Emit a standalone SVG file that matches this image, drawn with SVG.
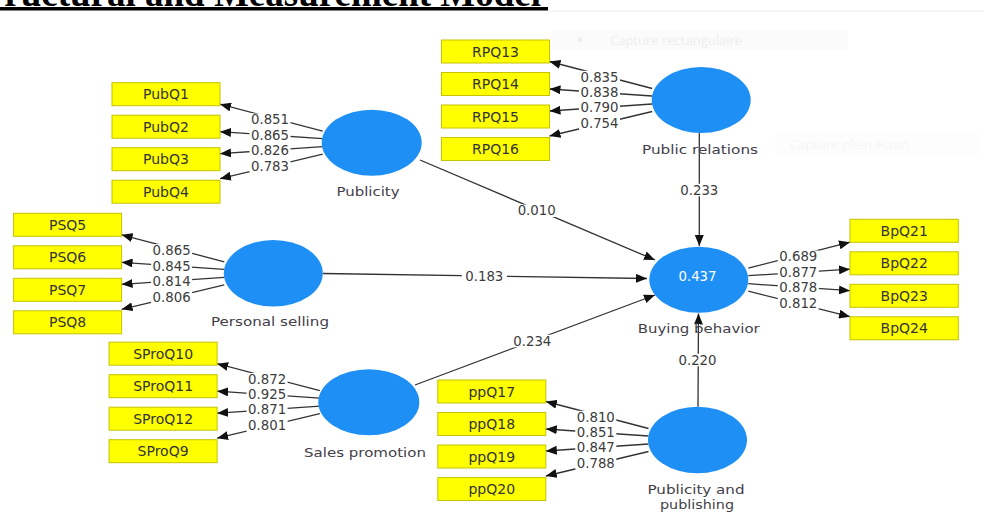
<svg xmlns="http://www.w3.org/2000/svg" width="984" height="514" viewBox="0 0 984 514">
<style>
.title{font-family:"Liberation Serif",serif;font-weight:bold;font-size:37px;fill:#000}
.ghost{font-family:"Open Sans","DejaVu Sans",sans-serif;font-size:13px;fill:#eeeeee}
.lv{fill:#1e8ff5}
.ind{fill:#ffff00;stroke:#c4c400;stroke-width:1}
.it{font-family:"DejaVu Sans",sans-serif;font-size:14px;fill:#333;text-anchor:middle}
.nl{font-family:"DejaVu Sans",sans-serif;font-size:13px;fill:#44404a;text-anchor:middle}
.w{font-family:"DejaVu Sans",sans-serif;font-size:13.3px;text-anchor:middle;fill:#3c3c3c}
.lb{fill:#fff;width:41px;height:12.5px}
.r2{font-family:"DejaVu Sans",sans-serif;font-size:13.3px;text-anchor:middle;fill:#fff}
.c line{stroke:#333;stroke-width:1.3;marker-end:url(#ah)}
</style>
<defs>
<marker id="ah" markerUnits="userSpaceOnUse" markerWidth="11" markerHeight="9" refX="11" refY="4.5" orient="auto">
<path d="M0,0 L11,4.5 L0,9 z" fill="#111"/>
</marker>
</defs>
<rect width="984" height="514" fill="#fff"/>
<line x1="548" y1="11" x2="984" y2="11" stroke="#ececec" stroke-width="1"/>
<rect x="0" y="7" width="548" height="3.5" fill="#000"/>
<text class="title" x="541" y="6" text-anchor="end">ructural and Measurement Model</text>
<rect x="552" y="30" width="296" height="20" fill="#fbfbfb"/>
<circle cx="580" cy="39.5" r="2.5" fill="#efefef"/>
<text class="ghost" x="610" y="44.5">Capture rectangulaire</text>
<rect x="775" y="133" width="205" height="22" fill="#fdfdfd"/>
<text class="ghost" x="790" y="149" style="fill:#f6f6f6">Capture plein écran</text>

<g id="connectors" class="c">
<line x1="322.7" y1="131.2" x2="220" y2="104.2"/>
<line x1="322.7" y1="138.7" x2="220" y2="131.7"/>
<line x1="322.7" y1="146.7" x2="220" y2="153.7"/>
<line x1="322.7" y1="154.2" x2="220" y2="178.7"/>
<line x1="652.2" y1="88.5" x2="549.5" y2="61.5"/>
<line x1="652.2" y1="96" x2="549.5" y2="89"/>
<line x1="652.2" y1="104" x2="549.5" y2="111"/>
<line x1="652.2" y1="111.5" x2="549.5" y2="136"/>
<line x1="224.3" y1="261.8" x2="121.6" y2="234.8"/>
<line x1="224.3" y1="269.3" x2="121.6" y2="262.3"/>
<line x1="224.3" y1="277.3" x2="121.6" y2="284.3"/>
<line x1="224.3" y1="284.8" x2="121.6" y2="309.3"/>
<line x1="319.8" y1="390.7" x2="217.1" y2="363.7"/>
<line x1="319.8" y1="398.2" x2="217.1" y2="391.2"/>
<line x1="319.8" y1="406.2" x2="217.1" y2="413.2"/>
<line x1="319.8" y1="413.7" x2="217.1" y2="438.2"/>
<line x1="648.5" y1="428.5" x2="545.8" y2="401.5"/>
<line x1="648.5" y1="436" x2="545.8" y2="429"/>
<line x1="648.5" y1="444" x2="545.8" y2="451"/>
<line x1="648.5" y1="451.5" x2="545.8" y2="476"/>
<line x1="748.3" y1="268.2" x2="850" y2="242.2"/>
<line x1="748.3" y1="275.7" x2="850" y2="269.2"/>
<line x1="748.3" y1="283.7" x2="850" y2="290.7"/>
<line x1="748.3" y1="291.2" x2="850" y2="316.7"/>
<line x1="420" y1="160" x2="655" y2="260"/>
<line x1="323" y1="273.5" x2="647" y2="278.5"/>
<line x1="415" y1="385" x2="655" y2="295"/>
<line x1="699.3" y1="133" x2="699.3" y2="246"/>
<line x1="698" y1="406.7" x2="698.5" y2="313.5"/>

<rect class="lb" x="249.5" y="113.5"/><text class="w" x="270" y="124.4">0.851</text>
<rect class="lb" x="249.5" y="129"/><text class="w" x="270" y="139.9">0.865</text>
<rect class="lb" x="249.5" y="144"/><text class="w" x="270" y="154.9">0.826</text>
<rect class="lb" x="249.5" y="160"/><text class="w" x="270" y="170.9">0.783</text>
<rect class="lb" x="579" y="70.8"/><text class="w" x="599.5" y="81.7">0.835</text>
<rect class="lb" x="579" y="86.3"/><text class="w" x="599.5" y="97.2">0.838</text>
<rect class="lb" x="579" y="101.3"/><text class="w" x="599.5" y="112.2">0.790</text>
<rect class="lb" x="579" y="117.3"/><text class="w" x="599.5" y="128.2">0.754</text>
<rect class="lb" x="151.1" y="244.1"/><text class="w" x="171.6" y="255">0.865</text>
<rect class="lb" x="151.1" y="259.6"/><text class="w" x="171.6" y="270.5">0.845</text>
<rect class="lb" x="151.1" y="274.6"/><text class="w" x="171.6" y="285.5">0.814</text>
<rect class="lb" x="151.1" y="290.6"/><text class="w" x="171.6" y="301.5">0.806</text>
<rect class="lb" x="246.6" y="373"/><text class="w" x="267.1" y="383.9">0.872</text>
<rect class="lb" x="246.6" y="388.5"/><text class="w" x="267.1" y="399.4">0.925</text>
<rect class="lb" x="246.6" y="403.5"/><text class="w" x="267.1" y="414.4">0.871</text>
<rect class="lb" x="246.6" y="419.5"/><text class="w" x="267.1" y="430.4">0.801</text>
<rect class="lb" x="575.3" y="410.8"/><text class="w" x="595.8" y="421.7">0.810</text>
<rect class="lb" x="575.3" y="426.3"/><text class="w" x="595.8" y="437.2">0.851</text>
<rect class="lb" x="575.3" y="441.3"/><text class="w" x="595.8" y="452.2">0.847</text>
<rect class="lb" x="575.3" y="457.3"/><text class="w" x="595.8" y="468.2">0.788</text>
<rect class="lb" x="777.8" y="250.5"/><text class="w" x="798.3" y="261.4">0.689</text>
<rect class="lb" x="777.8" y="266"/><text class="w" x="798.3" y="276.9">0.877</text>
<rect class="lb" x="777.8" y="281"/><text class="w" x="798.3" y="291.9">0.878</text>
<rect class="lb" x="777.8" y="297"/><text class="w" x="798.3" y="307.9">0.812</text>
<rect class="lb" x="514.2" y="204.5" style="width:45px"/><text class="w" x="536.7" y="215.4">0.010</text>
<rect class="lb" x="461.8" y="270.5" style="width:45px"/><text class="w" x="484.3" y="281.4">0.183</text>
<rect class="lb" x="509.8" y="334.8" style="width:45px"/><text class="w" x="532.3" y="345.7">0.234</text>
<rect class="lb" x="678.8" y="183.8"/><text class="w" x="699.3" y="194.7">0.233</text>
<rect class="lb" x="677" y="353.8"/><text class="w" x="697.5" y="364.7">0.220</text>
</g>

<g id="publicity">
<ellipse class="lv" cx="371.7" cy="142.7" rx="50" ry="33"/>
<text class="nl" x="368" y="195.5" textLength="63" lengthAdjust="spacingAndGlyphs">Publicity</text>
</g>
<g id="PubQ1"><rect class="ind" x="112" y="82.7" width="108" height="23"/><text class="it" x="166" y="99.3">PubQ1</text></g>
<g id="PubQ2"><rect class="ind" x="112" y="115.2" width="108" height="23"/><text class="it" x="166" y="131.8">PubQ2</text></g>
<g id="PubQ3"><rect class="ind" x="112" y="147.7" width="108" height="23"/><text class="it" x="166" y="164.3">PubQ3</text></g>
<g id="PubQ4"><rect class="ind" x="112" y="180.2" width="108" height="23"/><text class="it" x="166" y="196.8">PubQ4</text></g>

<g id="public-relations">
<ellipse class="lv" cx="701.2" cy="100" rx="49.5" ry="33"/>
<text class="nl" x="700" y="153.5" textLength="116" lengthAdjust="spacingAndGlyphs">Public relations</text>
</g>
<g id="RPQ13"><rect class="ind" x="441.5" y="40" width="108" height="23"/><text class="it" x="495.5" y="56.6">RPQ13</text></g>
<g id="RPQ14"><rect class="ind" x="441.5" y="72.5" width="108" height="23"/><text class="it" x="495.5" y="89.1">RPQ14</text></g>
<g id="RPQ15"><rect class="ind" x="441.5" y="105" width="108" height="23"/><text class="it" x="495.5" y="121.6">RPQ15</text></g>
<g id="RPQ16"><rect class="ind" x="441.5" y="137.5" width="108" height="23"/><text class="it" x="495.5" y="154.1">RPQ16</text></g>

<g id="personal-selling">
<ellipse class="lv" cx="273.3" cy="273.3" rx="49.5" ry="33.3"/>
<text class="nl" x="270" y="325.5" textLength="118" lengthAdjust="spacingAndGlyphs">Personal selling</text>
</g>
<g id="PSQ5"><rect class="ind" x="13.6" y="213.3" width="108" height="23"/><text class="it" x="67.6" y="229.9">PSQ5</text></g>
<g id="PSQ6"><rect class="ind" x="13.6" y="245.8" width="108" height="23"/><text class="it" x="67.6" y="262.4">PSQ6</text></g>
<g id="PSQ7"><rect class="ind" x="13.6" y="278.3" width="108" height="23"/><text class="it" x="67.6" y="294.9">PSQ7</text></g>
<g id="PSQ8"><rect class="ind" x="13.6" y="310.8" width="108" height="23"/><text class="it" x="67.6" y="327.4">PSQ8</text></g>

<g id="sales-promotion">
<ellipse class="lv" cx="368.8" cy="402.2" rx="50.5" ry="33"/>
<text class="nl" x="365" y="457" textLength="122" lengthAdjust="spacingAndGlyphs">Sales promotion</text>
</g>
<g id="SProQ10"><rect class="ind" x="109.1" y="342.2" width="108" height="23"/><text class="it" x="163.1" y="358.8">SProQ10</text></g>
<g id="SProQ11"><rect class="ind" x="109.1" y="374.7" width="108" height="23"/><text class="it" x="163.1" y="391.3">SProQ11</text></g>
<g id="SProQ12"><rect class="ind" x="109.1" y="407.2" width="108" height="23"/><text class="it" x="163.1" y="423.8">SProQ12</text></g>
<g id="SProQ9"><rect class="ind" x="109.1" y="439.7" width="108" height="23"/><text class="it" x="163.1" y="456.3">SProQ9</text></g>

<g id="publicity-publishing">
<ellipse class="lv" cx="697.5" cy="440" rx="49.5" ry="33.3"/>
<text class="nl" x="696" y="494" textLength="97" lengthAdjust="spacingAndGlyphs">Publicity and</text>
<text class="nl" x="697" y="508.5" textLength="74" lengthAdjust="spacingAndGlyphs">publishing</text>
</g>
<g id="ppQ17"><rect class="ind" x="437.8" y="380" width="108" height="23"/><text class="it" x="491.8" y="396.6">ppQ17</text></g>
<g id="ppQ18"><rect class="ind" x="437.8" y="412.5" width="108" height="23"/><text class="it" x="491.8" y="429.1">ppQ18</text></g>
<g id="ppQ19"><rect class="ind" x="437.8" y="445" width="108" height="23"/><text class="it" x="491.8" y="461.6">ppQ19</text></g>
<g id="ppQ20"><rect class="ind" x="437.8" y="477.5" width="108" height="23"/><text class="it" x="491.8" y="494.1">ppQ20</text></g>

<g id="buying-behavior">
<ellipse class="lv" cx="698.8" cy="279.7" rx="49.5" ry="33"/>
<text class="r2" x="697.5" y="280.7">0.437</text>
<text class="nl" x="698.7" y="332.7" textLength="122" lengthAdjust="spacingAndGlyphs">Buying behavior</text>
</g>
<g id="BpQ21"><rect class="ind" x="850" y="219.3" width="108.3" height="23"/><text class="it" x="904.2" y="235.9">BpQ21</text></g>
<g id="BpQ22"><rect class="ind" x="850" y="251.8" width="108.3" height="23"/><text class="it" x="904.2" y="268.4">BpQ22</text></g>
<g id="BpQ23"><rect class="ind" x="850" y="284.3" width="108.3" height="23"/><text class="it" x="904.2" y="300.9">BpQ23</text></g>
<g id="BpQ24"><rect class="ind" x="850" y="316.8" width="108.3" height="23"/><text class="it" x="904.2" y="333.4">BpQ24</text></g>
</svg>
